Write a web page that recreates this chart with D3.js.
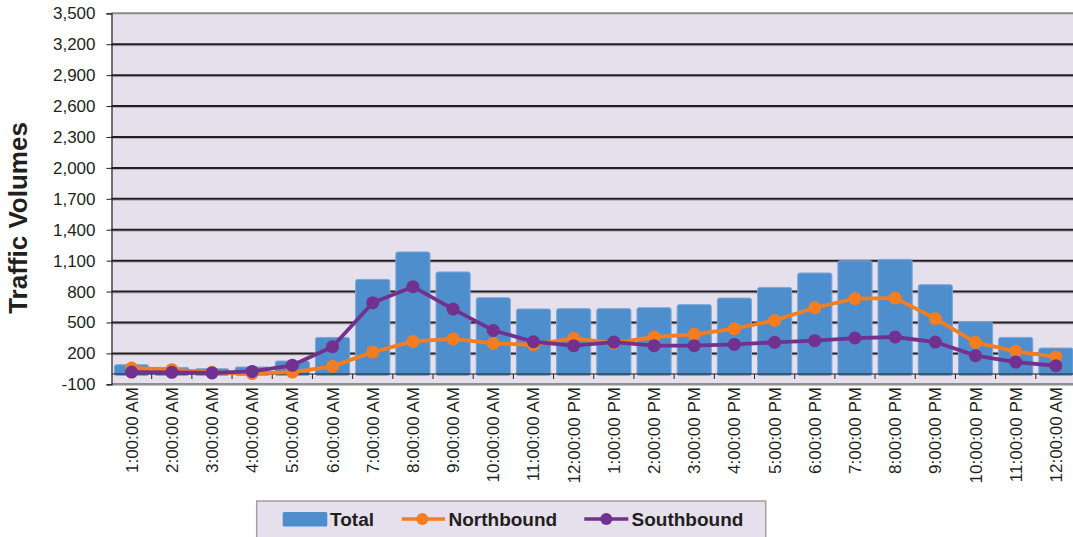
<!DOCTYPE html>
<html><head><meta charset="utf-8">
<script src="https://cdn.jsdelivr.net/npm/d3@7"></script>
<style>body{margin:0;background:#fff;}svg{display:block;font-family:Arial,"Liberation Sans",sans-serif;}</style>
</head><body>
<svg id="chart" width="1073" height="537"></svg>
<script>
const categories = ["1:00:00 AM","2:00:00 AM","3:00:00 AM","4:00:00 AM","5:00:00 AM","6:00:00 AM","7:00:00 AM","8:00:00 AM","9:00:00 AM","10:00:00 AM","11:00:00 AM","12:00:00 PM","1:00:00 PM","2:00:00 PM","3:00:00 PM","4:00:00 PM","5:00:00 PM","6:00:00 PM","7:00:00 PM","8:00:00 PM","9:00:00 PM","10:00:00 PM","11:00:00 PM","12:00:00 AM"];
const total = [90,64,51,68,126,355,918,1184,990,740,631,634,634,643,673,737,840,980,1099,1112,866,507,355,252];
const northbound = [58,42,16,5,19,74,213,316,340,297,284,345,300,359,385,440,520,643,731,737,537,307,220,165];
const southbound = [19,16,10,25,84,265,692,847,630,423,313,275,310,275,275,287,307,323,349,359,310,178,116,80];
const yTicks = [-100,200,500,800,1100,1400,1700,2000,2300,2600,2900,3200,3500];

const svg = d3.select("#chart");
const pLeft = 111.5, pRight = 1076, pTop = 13.3, pBottom = 384.3;
const x = d3.scaleBand().domain(categories).range([pLeft, pRight]).paddingInner(0.15).paddingOuter(0.075);
const xb = d3.scaleBand().domain(categories).range([pLeft, pRight]);
const y = d3.scaleLinear().domain([-100, 3500]).range([pBottom, pTop]);

// plot background
svg.append("rect").attr("x", pLeft).attr("y", pTop).attr("width", pRight - pLeft).attr("height", pBottom - pTop).attr("fill", "#e5e0ec");

// gridlines
const grid = svg.append("g");
yTicks.filter(t => t > -100 && t < 3500).forEach(t => {
  grid.append("line").attr("x1", pLeft).attr("x2", pRight).attr("y1", y(t) + 1.5).attr("y2", y(t) + 1.5).attr("stroke", "#b4b0b8").attr("stroke-width", 1);
  grid.append("line").attr("x1", pLeft).attr("x2", pRight).attr("y1", y(t)).attr("y2", y(t)).attr("stroke", "#231f20").attr("stroke-width", 2);
});
// top border
svg.append("line").attr("x1", pLeft).attr("x2", pRight).attr("y1", pTop).attr("y2", pTop).attr("stroke", "#8a8a8a").attr("stroke-width", 2);
// bottom border
svg.append("line").attr("x1", pLeft).attr("x2", pRight).attr("y1", pBottom).attr("y2", pBottom).attr("stroke", "#8e8e8e").attr("stroke-width", 2.5);

// bars
svg.append("g").selectAll("rect").data(total).join("rect")
  .attr("x", (d, i) => x(categories[i]))
  .attr("width", x.bandwidth())
  .attr("y", d => y(d))
  .attr("height", d => y(0) - y(d) + 1.5)
  .attr("rx", 2)
  .attr("fill", "#4f8ecd")
  .attr("stroke", "#79a8da").attr("stroke-width", 1);

// zero axis
svg.append("line").attr("x1", pLeft).attr("x2", pRight).attr("y1", y(0)).attr("y2", y(0)).attr("stroke", "#231f20").attr("stroke-width", 1.2);
const xTickG = svg.append("g");
d3.range(1, categories.length).forEach(k => {
  const xx = xb(categories[k]);
  xTickG.append("line").attr("x1", xx).attr("x2", xx).attr("y1", y(0)).attr("y2", y(0) + 5).attr("stroke", "#231f20").attr("stroke-width", 1);
});

// y axis
const fmt = d3.format(",");
const yAxis = d3.axisLeft(y).tickValues(yTicks).tickSize(5).tickPadding(11).tickFormat(d => fmt(d).replace("\u2212", "-"));
const yg = svg.append("g").attr("transform", `translate(${pLeft},0)`).call(yAxis);
yg.select(".domain").attr("stroke", "#231f20").attr("stroke-width", 1.2);
yg.selectAll(".tick line").attr("stroke", "#231f20");
yg.selectAll(".tick text").attr("font-size", 17).attr("fill", "#231f20").attr("font-family", "Arial, 'Liberation Sans', sans-serif");

// x labels
svg.append("g").selectAll("text").data(categories).join("text")
  .attr("transform", d => `translate(${xb(d) + xb.bandwidth() / 2 + 6},387) rotate(-90)`)
  .attr("text-anchor", "end")
  .attr("font-size", 17)
  .attr("fill", "#231f20")
  .text(d => d);

// lines
const line = d3.line().x((d, i) => xb(categories[i]) + xb.bandwidth() / 2).y(d => y(d));
function series(data, color) {
  const g = svg.append("g");
  g.append("path").datum(data).attr("d", line).attr("fill", "none").attr("stroke", color).attr("stroke-width", 3.8).attr("stroke-linejoin", "round");
  g.selectAll("circle").data(data).join("circle")
    .attr("cx", (d, i) => xb(categories[i]) + xb.bandwidth() / 2)
    .attr("cy", d => y(d)).attr("r", 6.5).attr("fill", color);
}
series(northbound, "#f47d20");
series(southbound, "#72308f");

// y title
svg.append("text").attr("transform", "translate(27,218) rotate(-90)").attr("text-anchor", "middle")
  .attr("font-size", 26).attr("font-weight", "bold").attr("fill", "#231f20").text("Traffic Volumes");

// legend
const lg = svg.append("g");
lg.append("rect").attr("x", 256.7).attr("y", 501).attr("width", 509).attr("height", 45).attr("fill", "#e5e0ec").attr("stroke", "#a0a0a0").attr("stroke-width", 1.5);
lg.append("rect").attr("x", 282.7).attr("y", 512).attr("width", 44.6).attr("height", 14.5).attr("rx", 1.5).attr("fill", "#4f8ecd");
lg.append("text").attr("x", 330).attr("y", 526).attr("font-size", 19).attr("font-weight", "bold").attr("fill", "#231f20").text("Total");
lg.append("line").attr("x1", 401.7).attr("x2", 445).attr("y1", 519).attr("y2", 519).attr("stroke", "#f47d20").attr("stroke-width", 3.5);
lg.append("circle").attr("cx", 422.3).attr("cy", 519).attr("r", 6).attr("fill", "#f47d20");
lg.append("text").attr("x", 448.5).attr("y", 526).attr("font-size", 19).attr("font-weight", "bold").attr("fill", "#231f20").text("Northbound");
lg.append("line").attr("x1", 584.3).attr("x2", 628.3).attr("y1", 519).attr("y2", 519).attr("stroke", "#72308f").attr("stroke-width", 3.5);
lg.append("circle").attr("cx", 606.3).attr("cy", 519).attr("r", 6).attr("fill", "#72308f");
lg.append("text").attr("x", 631.5).attr("y", 526).attr("font-size", 19).attr("font-weight", "bold").attr("fill", "#231f20").text("Southbound");
</script>
</body></html>
